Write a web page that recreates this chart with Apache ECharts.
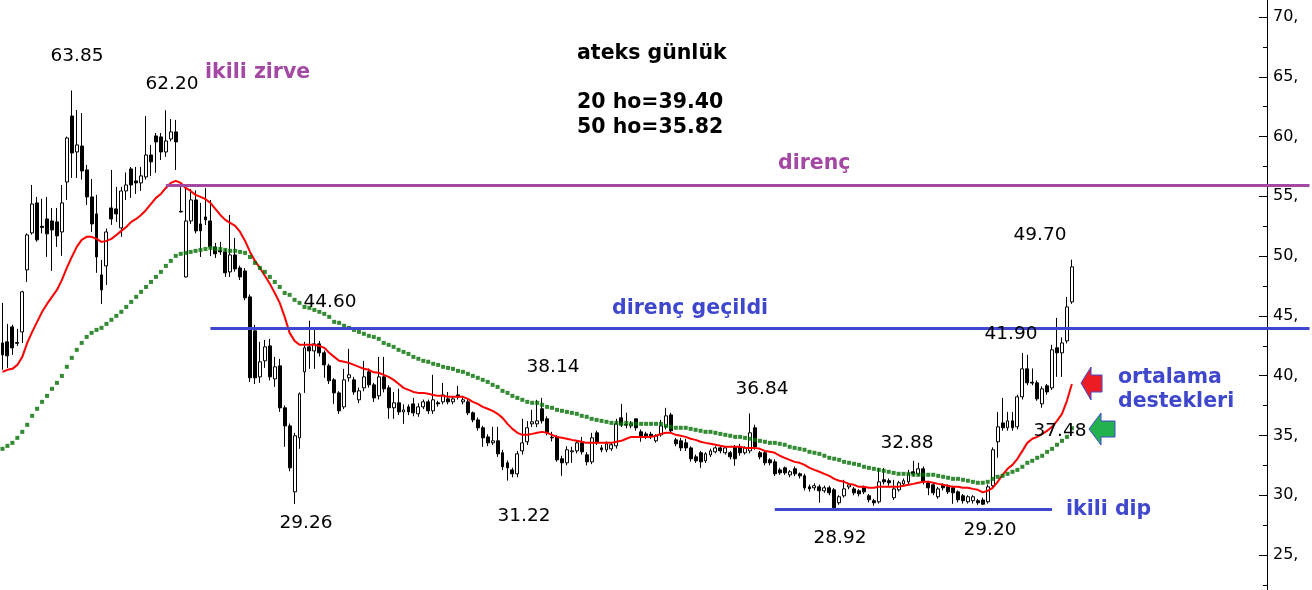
<!DOCTYPE html>
<html>
<head>
<meta charset="utf-8">
<script src="https://cdn.jsdelivr.net/npm/echarts@6/dist/echarts.min.js"></script>
<style>
html,body{margin:0;padding:0;background:#fff;}
#chart{width:1312px;height:590px;}
</style>
</head>
<body>
<div id="chart"></div>
<script>
// ---- data ----
const categories = Array.from({length: 265}, (_, i) => 'g' + (i + 1));

// [open, close, low, high]
const ohlc = [
[42.74,41.74,40.49,46.09],[42.83,41.66,40.65,44.33],[44.08,42.32,41.74,44.25],[42.70,42.78,42.49,43.92],
[43.66,47.01,42.74,47.10],[48.85,51.77,47.84,51.90],[51.94,54.36,51.80,55.95],[54.45,51.36,51.20,54.95],
[52.50,52.40,51.90,54.80],[53.11,51.86,49.93,54.95],[52.94,52.19,48.76,54.03],[52.86,51.69,50.77,54.03],
[52.02,54.45,50.02,55.95],[56.20,59.88,54.70,60.00],[61.72,58.63,56.54,63.85],[58.71,59.30,56.54,62.22],
[59.21,57.12,56.40,61.97],[57.21,54.95,54.28,57.63],[54.95,52.69,52.02,56.45],[53.53,49.93,48.60,55.12],
[48.43,47.17,46.00,49.68],[49.18,52.02,47.59,52.30],[54.03,53.11,52.61,57.21],[53.95,53.53,52.86,55.79],
[52.36,55.45,51.61,55.79],[55.45,55.95,54.70,57.00],[57.29,55.95,54.87,57.46],[56.29,56.12,55.20,57.46],
[56.12,56.71,55.45,57.46],[56.62,58.46,56.40,61.72],[58.46,57.88,56.71,59.30],[60.05,59.55,56.96,60.30],
[59.97,58.71,58.04,60.30],[58.71,59.63,58.30,62.20],[59.80,60.39,59.60,61.47],[60.39,59.55,57.21,61.39],
[53.75,53.70,53.65,55.79],[48.26,52.94,48.20,55.79],[52.94,54.70,52.70,55.62],[54.70,52.11,51.90,55.50],
[52.69,52.11,49.93,54.45],[53.28,53.03,52.60,55.70],[52.94,50.77,50.00,54.70],[50.77,50.19,49.85,51.10],
[50.44,50.36,50.10,51.19],[50.35,48.60,48.26,50.60],[48.68,50.10,48.26,53.44],[50.10,48.93,48.70,51.52],
[49.01,48.26,48.00,49.20],[48.76,46.51,46.30,49.00],[46.59,39.82,39.48,46.80],[43.75,39.82,39.30,44.25],
[39.90,41.16,39.40,42.83],[41.24,42.41,40.65,42.99],[42.49,39.90,39.60,43.08],[39.73,40.74,39.06,41.57],
[40.82,37.31,36.97,41.41],[37.31,35.80,34.05,37.50],[35.80,32.29,32.00,36.00],[30.28,34.97,29.26,35.22],
[34.80,38.48,33.88,38.60],[40.32,42.33,38.56,42.83],[42.41,42.07,40.57,44.60],[42.07,42.66,40.57,43.83],
[42.66,41.91,41.60,42.90],[41.91,40.90,39.82,42.10],[40.82,39.57,39.30,41.00],[39.65,38.56,37.64,39.80],
[38.56,37.06,36.80,38.70],[37.39,39.65,37.20,40.57],[39.82,40.07,39.50,42.24],[39.65,38.64,38.40,39.90],
[37.98,38.73,37.70,39.00],[38.98,39.90,38.70,41.24],[40.32,39.23,39.00,40.60],[39.23,38.14,37.80,39.40],
[38.31,39.90,38.00,41.57],[39.90,38.90,38.60,41.57],[38.98,37.31,36.39,39.20],[37.31,37.73,36.39,38.64],
[37.73,36.97,36.70,38.90],[36.97,37.14,35.97,37.60],[37.39,36.97,36.70,37.60],[37.64,36.89,36.60,38.14],
[36.81,37.39,36.56,37.70],[37.39,37.81,37.20,38.00],[37.81,37.06,36.80,38.00],[37.06,37.98,36.80,40.07],
[37.73,37.64,37.40,37.90],[37.81,38.39,37.60,39.40],[38.06,37.81,37.60,38.64],[37.81,38.06,37.60,38.30],
[38.39,38.23,38.00,39.15],[37.81,37.98,37.60,38.20],[37.81,36.89,36.70,38.00],[36.89,36.30,36.10,37.00],
[36.30,35.64,35.40,36.50],[35.64,34.80,34.05,35.80],[34.88,34.38,34.10,35.10],[34.38,34.55,34.20,35.72],
[34.55,33.46,33.20,35.72],[33.55,32.38,32.10,33.80],[32.71,32.29,31.22,32.90],[32.12,31.79,31.50,32.30],
[31.79,33.46,31.50,33.70],[33.71,34.38,33.40,36.39],[34.47,35.64,34.20,36.20],[35.97,36.14,35.70,37.14],
[35.97,36.22,35.70,37.98],[37.23,36.22,36.00,38.14],[36.39,35.22,35.00,36.60],[34.85,34.80,34.50,35.30],
[34.88,32.96,32.80,35.00],[33.05,32.71,31.62,33.30],[32.71,33.80,32.50,34.10],[33.63,33.71,32.71,34.05],
[33.71,34.38,33.50,34.60],[34.38,33.63,33.40,34.88],[33.38,32.79,32.50,33.60],[32.79,34.80,32.60,35.22],
[35.22,34.47,34.20,35.40],[33.96,33.80,33.60,34.20],[33.80,34.30,33.60,34.50],[33.88,34.22,33.70,34.40],
[34.13,35.97,33.90,36.39],[36.47,35.89,35.70,37.64],[35.92,35.86,35.60,36.90],[35.80,35.97,35.60,36.20],
[36.39,35.64,35.40,36.40],[35.30,34.88,34.47,35.50],[35.13,34.88,34.70,35.30],[35.10,34.90,34.70,35.30],
[34.55,34.97,34.40,35.10],[35.05,35.80,34.90,36.30],[35.72,36.64,35.50,37.31],[36.72,35.39,35.20,36.90],
[34.63,34.30,34.10,34.80],[34.55,33.96,33.70,34.80],[34.38,33.96,33.70,34.72],[33.96,33.05,32.80,34.10],
[33.21,32.88,32.70,33.40],[33.55,32.79,32.29,33.70],[32.88,33.46,32.70,33.60],[33.38,33.71,33.20,33.90],
[33.63,33.96,33.50,34.10],[33.96,33.71,33.50,34.10],[33.55,33.96,33.40,34.10],[33.55,33.21,33.00,33.70],
[34.05,33.05,32.46,34.20],[34.05,33.55,33.30,34.30],[33.55,33.96,33.40,34.10],[33.71,35.22,33.50,36.84],
[35.64,34.05,33.80,35.90],[33.55,33.21,33.00,33.70],[33.55,32.71,32.50,33.70],[32.96,32.71,32.50,33.10],
[32.79,31.79,31.60,33.00],[32.12,31.87,31.70,32.30],[32.29,31.87,31.70,32.40],[31.70,31.96,31.50,32.10],
[32.21,31.79,31.60,32.40],[31.79,31.62,31.40,31.90],[31.62,30.62,30.40,31.80],[30.70,30.53,30.30,30.90],
[30.62,30.79,30.40,31.00],[30.70,30.37,29.37,30.90],[30.37,30.62,30.20,30.80],[30.62,30.20,30.00,30.80],
[30.45,28.95,28.92,30.60],[29.37,29.87,29.20,30.00],[29.95,30.53,29.80,31.29],[30.70,30.87,30.50,31.00],
[30.53,30.20,30.00,30.70],[30.37,30.12,29.90,30.50],[30.62,30.28,30.10,30.80],[29.95,29.62,29.40,30.10],
[29.54,29.37,29.12,29.70],[29.45,31.12,29.30,32.29],[31.29,31.12,30.90,32.29],[31.21,31.04,30.80,31.40],
[29.79,30.53,29.60,31.29],[30.45,31.04,30.30,31.20],[30.95,31.21,30.80,31.40],[31.12,31.79,30.90,32.12],
[31.96,31.79,31.60,32.88],[31.79,32.21,31.60,32.71],[32.21,31.12,30.90,32.40],[31.04,30.62,30.00,31.20],
[30.87,30.20,30.00,31.00],[29.87,30.53,29.70,30.70],[30.87,30.62,30.40,31.00],[30.70,30.28,30.10,30.90],
[30.62,30.20,29.28,30.80],[30.28,29.62,29.40,30.40],[29.95,29.54,29.30,30.10],[29.45,29.87,29.30,30.00],
[29.54,29.87,29.30,30.00],[29.54,29.37,29.20,29.70],[29.60,29.25,29.20,29.80],[29.45,30.70,29.30,30.90],
[30.79,33.80,30.60,34.00],[34.47,35.72,33.13,36.97],[36.05,35.64,35.40,38.14],[35.64,36.22,35.40,36.97],
[36.22,35.64,35.40,36.97],[35.72,38.23,35.50,38.40],[38.23,40.57,38.00,41.90],[40.57,39.40,39.20,41.74],
[39.45,39.38,39.20,40.60],[39.40,38.06,37.90,39.60],[37.64,38.90,37.31,39.10],[39.15,38.64,38.40,39.30],
[38.98,42.16,38.80,42.58],[42.33,41.91,39.90,44.83],[41.91,42.74,39.90,43.20],[42.91,45.75,42.70,46.59],
[46.17,49.10,46.00,49.70]
];

const ma20 = [
40.32,40.49,40.57,40.90,41.57,42.74,43.66,44.50,45.34,46.00,46.59,47.17,48.01,49.01,49.93,50.77,51.36,51.61,51.61,51.44,
51.19,51.27,51.44,51.77,52.11,52.44,52.86,53.11,53.44,53.86,54.36,54.87,55.20,55.70,56.12,56.29,56.12,55.70,55.45,55.12,
54.95,54.78,54.45,53.95,53.44,53.03,52.78,52.53,52.02,51.27,50.35,49.60,49.01,48.35,47.68,46.92,46.09,44.92,43.58,42.91,
42.58,42.58,42.58,42.58,42.49,42.33,41.91,41.57,41.24,41.16,41.07,40.90,40.74,40.57,40.49,40.28,40.24,40.07,39.90,39.65,
39.32,38.98,38.81,38.64,38.56,38.56,38.48,38.39,38.31,38.31,38.23,38.23,38.23,38.23,38.06,37.81,37.64,37.39,37.23,37.06,
36.81,36.47,35.97,35.55,35.22,35.05,35.05,35.13,35.22,35.30,35.22,35.05,34.88,34.80,34.72,34.63,34.55,34.47,34.38,34.38,
34.38,34.38,34.38,34.38,34.47,34.55,34.72,34.88,34.88,34.88,34.88,34.88,34.97,35.13,35.22,35.22,35.05,34.97,34.88,34.72,
34.63,34.47,34.38,34.30,34.22,34.13,34.05,34.05,34.05,34.05,33.96,33.96,33.96,33.88,33.71,33.63,33.55,33.30,33.13,32.96,
32.79,32.71,32.54,32.29,32.12,31.96,31.79,31.62,31.37,31.21,31.12,30.95,30.87,30.70,30.70,30.62,30.62,30.70,30.70,30.70,
30.70,30.70,30.79,30.87,30.95,31.04,31.12,31.12,31.04,30.95,30.87,30.79,30.70,30.70,30.62,30.62,30.53,30.45,30.24,30.37,
30.62,31.12,31.71,32.21,32.54,33.05,33.71,34.38,34.72,34.88,35.13,35.39,35.72,36.22,36.81,37.90,39.30
];

const ma50 = [
33.88,34.13,34.38,34.80,35.30,35.89,36.64,37.23,37.81,38.31,38.90,39.40,39.98,40.74,41.49,42.16,42.74,43.24,43.58,43.83,
44.00,44.33,44.67,45.00,45.34,45.75,46.17,46.59,47.01,47.42,47.84,48.26,48.68,49.18,49.60,50.02,50.19,50.27,50.35,50.44,
50.52,50.60,50.69,50.60,50.60,50.52,50.44,50.44,50.35,50.27,49.93,49.43,49.01,48.68,48.26,47.84,47.42,46.92,46.76,46.34,
46.09,45.75,45.67,45.50,45.34,45.17,44.92,44.50,44.42,44.17,44.00,43.83,43.66,43.50,43.33,43.24,43.08,42.74,42.58,42.41,
42.16,41.99,41.82,41.57,41.41,41.24,41.16,40.99,40.90,40.74,40.65,40.57,40.40,40.32,40.15,39.98,39.82,39.65,39.48,39.23,
39.06,38.73,38.56,38.31,38.14,37.98,37.81,37.73,37.73,37.56,37.39,37.31,37.14,37.06,36.97,36.89,36.81,36.64,36.56,36.39,
36.30,36.22,36.14,36.05,36.05,35.97,36.05,35.97,35.97,35.97,35.97,35.97,35.97,35.97,35.80,35.72,35.64,35.64,35.64,35.55,
35.47,35.39,35.30,35.30,35.22,35.13,35.05,34.97,34.88,34.88,34.80,34.72,34.63,34.55,34.47,34.38,34.38,34.30,34.22,34.05,
33.96,33.88,33.80,33.63,33.55,33.46,33.30,33.13,33.05,32.96,32.79,32.71,32.63,32.54,32.38,32.29,32.21,32.12,32.04,31.96,
31.87,31.79,31.79,31.79,31.71,31.71,31.71,31.71,31.71,31.62,31.54,31.46,31.37,31.37,31.29,31.21,31.12,31.04,31.04,31.12,
31.37,31.54,31.62,31.79,31.96,32.12,32.38,32.71,32.88,33.13,33.30,33.63,33.88,34.22,34.55,34.88,35.60
];

// horizontal level lines: [start category index, end category index, value]
const resistanceTop = [33, 264, 55.9];
const resistanceBroken = [42, 264, 44.0];
const doubleBottom = [156, 212, 28.8];

// price axis: labelled range and the extra minor tick below it
const yMain = {min: 25, max: 70, interval: 5};
const yMinor = {min: 22.5, max: 70, interval: 2.5};

// ---- colours ----
const PURPLE = '#a349a4';
const BLUE = '#3f48cc';
const FONT = '"DejaVu Sans", Verdana, sans-serif';

function hline(def, color) {
  return [
    {coord: [categories[def[0]], def[2]], lineStyle: {color: color, width: 3, type: 'solid'}},
    {coord: [categories[def[1]], def[2]]}
  ];
}

function txt(text, x, y, opts) {
  opts = opts || {};
  return {
    type: 'text', x: x, y: y, z: 100, silent: true,
    style: {
      text: text,
      font: (opts.bold ? 'bold ' : '') + (opts.size || 18.5) + 'px ' + FONT,
      fill: opts.color || '#000',
      align: opts.align || 'center',
      verticalAlign: 'middle'
    }
  };
}

const annotations = [
  txt('63.85', 77, 56), txt('62.20', 172, 84),
  txt('ikili zirve', 205, 73, {bold: true, size: 20.5, color: PURPLE, align: 'left'}),
  txt('ateks günlük', 577, 54, {bold: true, size: 20.5, align: 'left'}),
  txt('20 ho=39.40', 577, 103, {bold: true, size: 20.5, align: 'left'}),
  txt('50 ho=35.82', 577, 128, {bold: true, size: 20.5, align: 'left'}),
  txt('direnç', 778, 164, {bold: true, size: 20.5, color: PURPLE, align: 'left'}),
  txt('49.70', 1040, 235),
  txt('44.60', 330, 302),
  txt('direnç geçildi', 612, 309, {bold: true, size: 20.5, color: BLUE, align: 'left'}),
  txt('41.90', 1011, 334),
  txt('38.14', 553, 367),
  txt('36.84', 762, 389),
  txt('32.88', 907, 443),
  txt('37.48', 1060, 431),
  txt('ortalama', 1118, 378, {bold: true, size: 20.5, color: BLUE, align: 'left'}),
  txt('destekleri', 1118, 402, {bold: true, size: 20.5, color: BLUE, align: 'left'}),
  txt('29.26', 306, 523),
  txt('31.22', 524, 516),
  txt('28.92', 840, 538),
  txt('29.20', 990, 530),
  txt('ikili dip', 1066, 510, {bold: true, size: 20.5, color: BLUE, align: 'left'}),
  {type: 'polygon', z: 100, silent: true,
   shape: {points: [[1081,383],[1091,367],[1091,375],[1102,375],[1102,392],[1091,392],[1091,400]]},
   style: {fill: '#ed1c24', stroke: BLUE, lineWidth: 1}},
  {type: 'polygon', z: 100, silent: true,
   shape: {points: [[1089,429],[1101,413],[1101,421],[1115,421],[1115,437],[1101,437],[1101,445]]},
   style: {fill: '#22b14c', stroke: BLUE, lineWidth: 1}}
];

const hiddenX = (gi) => ({type: 'category', gridIndex: gi, show: false, data: ['a']});

const chart = echarts.init(document.getElementById('chart'), null, {renderer: 'canvas'});
chart.setOption({
  animation: false,
  backgroundColor: '#fff',
  grid: [
    {left: 0, right: 0, top: 17, bottom: 35, containLabel: false},   // price grid
    {left: 0, right: 0, top: 0, bottom: 0, containLabel: false},     // full-height axis line
    {left: 0, right: 0, top: 17, bottom: 5, containLabel: false}     // minor tick below 25
  ],
  xAxis: [
    {type: 'category', data: categories, boundaryGap: true, gridIndex: 0,
     axisLine: {show: false}, axisTick: {show: false}, axisLabel: {show: false}, splitLine: {show: false}},
    hiddenX(1), hiddenX(2)
  ],
  yAxis: [
    {
      type: 'value', gridIndex: 0, position: 'right', offset: -45,
      min: yMain.min, max: yMain.max, interval: yMain.interval,
      axisLine: {show: true, onZero: false, lineStyle: {color: '#000', width: 1}},
      axisTick: {show: true, inside: true, length: 8, lineStyle: {color: '#000', width: 1}},
      minorTick: {show: true, splitNumber: 2, length: 4, lineStyle: {color: '#000'}},
      splitLine: {show: false}, minorSplitLine: {show: false},
      axisLabel: {color: '#000', fontFamily: FONT, fontSize: 16, margin: 6,
                  formatter: v => v + ','}
    },
    {
      type: 'value', gridIndex: 1, position: 'right', offset: -45, min: 0, max: 1,
      axisLine: {show: true, onZero: false, lineStyle: {color: '#000', width: 1}},
      axisTick: {show: false}, axisLabel: {show: false}, splitLine: {show: false}
    },
    {
      type: 'value', gridIndex: 2, position: 'right', offset: -45,
      min: yMinor.min, max: yMinor.max, interval: yMinor.interval,
      axisLine: {show: false, onZero: false},
      axisTick: {show: true, inside: true, length: 4, lineStyle: {color: '#000'}},
      axisLabel: {show: false}, splitLine: {show: false}
    }
  ],
  series: [
    {
      type: 'candlestick', data: ohlc, barWidth: 3.4, xAxisIndex: 0, yAxisIndex: 0,
      itemStyle: {color: '#fff', color0: '#000', borderColor: '#000', borderColor0: '#000',
                  borderColorDoji: '#000', borderWidth: 1},
      markLine: {
        silent: true, symbol: 'none', label: {show: false}, animation: false,
        data: [hline(resistanceTop, PURPLE), hline(resistanceBroken, BLUE), hline(doubleBottom, BLUE)]
      },
      z: 2
    },
    {
      type: 'line', data: ma20, showSymbol: false, symbol: 'none', xAxisIndex: 0, yAxisIndex: 0,
      lineStyle: {color: '#ff0000', width: 2}, z: 3
    },
    {
      type: 'scatter', data: ma50, symbol: 'rect', symbolSize: 4, xAxisIndex: 0, yAxisIndex: 0,
      itemStyle: {color: '#006e00'}, z: 4
    }
  ],
  graphic: annotations
});
</script>
</body>
</html>
